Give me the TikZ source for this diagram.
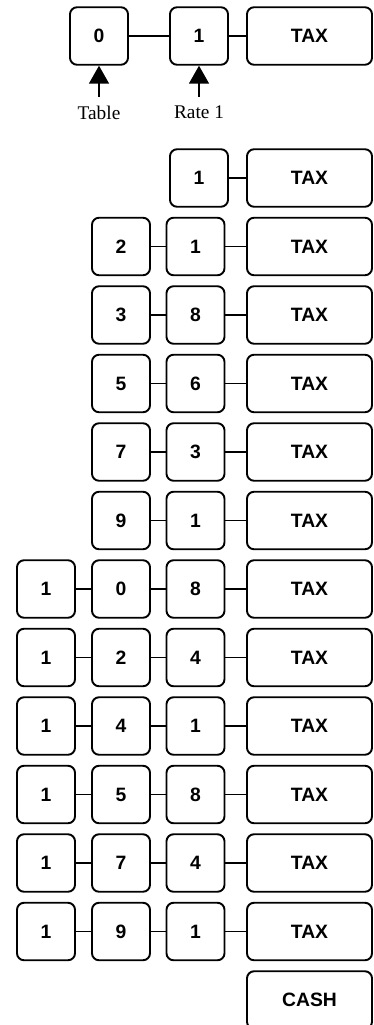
\documentclass[tikz,border=0pt]{standalone}
\usepackage{fontspec}
\setmainfont{Liberation Serif}
\setsansfont{Liberation Sans}
\usetikzlibrary{arrows.meta}

\begin{document}
\begin{tikzpicture}[
    key/.style={draw, line width=1.1pt, rounded corners=4pt, minimum width=1.16cm, minimum height=1.15cm, inner sep=0pt, font=\fontsize{11}{13}\selectfont\sffamily\bfseries},
    widekey/.style={key, minimum width=2.5cm},
    link/.style={line width=0.9pt},
    pointer/.style={line width=0.9pt, -{Triangle[length=0.36cm, width=0.4cm]}},
    lbl/.style={anchor=north, inner sep=5pt, font=\fontsize{11}{13}\selectfont}]
    \useasboundingbox (0,0) rectangle (7.48,-20.5);

    % Table and rate
    \node[key] (t0) at (1.98,-0.72) {0};
    \node[key] (t1) at (3.98,-0.72) {1};
    \node[widekey] (ttax) at (6.19,-0.72) {TAX};
    \draw[link] (t0) -- (t1);
    \draw[link] (t1) -- (ttax);
    \node[lbl] (ltable) at (1.98,-1.94) {Table};
    \node[lbl] (lrate) at (3.98,-1.94) {Rate 1};
    \draw[pointer] (ltable.north) -- (t0.south);
    \draw[pointer] (lrate.north) -- (t1.south);

    % Single digit
    \node[key] (a1) at (3.98,-3.56) {1};
    \node[widekey] (atax) at (6.19,-3.56) {TAX};
    \draw[link] (a1) -- (atax);

    % Two digits
    \node[key] (b1) at (2.42,-4.93) {2};
    \node[key] (b2) at (3.91,-4.93) {1};
    \node[widekey] (btax) at (6.19,-4.93) {TAX};
    \draw[link] (b1) -- (b2);
    \draw[link] (b2) -- (btax);

    \node[key] (c1) at (2.42,-6.30) {3};
    \node[key] (c2) at (3.91,-6.30) {8};
    \node[widekey] (ctax) at (6.19,-6.30) {TAX};
    \draw[link] (c1) -- (c2);
    \draw[link] (c2) -- (ctax);

    \node[key] (d1) at (2.42,-7.67) {5};
    \node[key] (d2) at (3.91,-7.67) {6};
    \node[widekey] (dtax) at (6.19,-7.67) {TAX};
    \draw[link] (d1) -- (d2);
    \draw[link] (d2) -- (dtax);

    \node[key] (e1) at (2.42,-9.04) {7};
    \node[key] (e2) at (3.91,-9.04) {3};
    \node[widekey] (etax) at (6.19,-9.04) {TAX};
    \draw[link] (e1) -- (e2);
    \draw[link] (e2) -- (etax);

    \node[key] (f1) at (2.42,-10.41) {9};
    \node[key] (f2) at (3.91,-10.41) {1};
    \node[widekey] (ftax) at (6.19,-10.41) {TAX};
    \draw[link] (f1) -- (f2);
    \draw[link] (f2) -- (ftax);

    % Three digits
    \node[key] (g1) at (0.92,-11.78) {1};
    \node[key] (g2) at (2.42,-11.78) {0};
    \node[key] (g3) at (3.91,-11.78) {8};
    \node[widekey] (gtax) at (6.19,-11.78) {TAX};
    \draw[link] (g1) -- (g2);
    \draw[link] (g2) -- (g3);
    \draw[link] (g3) -- (gtax);

    \node[key] (h1) at (0.92,-13.15) {1};
    \node[key] (h2) at (2.42,-13.15) {2};
    \node[key] (h3) at (3.91,-13.15) {4};
    \node[widekey] (htax) at (6.19,-13.15) {TAX};
    \draw[link] (h1) -- (h2);
    \draw[link] (h2) -- (h3);
    \draw[link] (h3) -- (htax);

    \node[key] (i1) at (0.92,-14.52) {1};
    \node[key] (i2) at (2.42,-14.52) {4};
    \node[key] (i3) at (3.91,-14.52) {1};
    \node[widekey] (itax) at (6.19,-14.52) {TAX};
    \draw[link] (i1) -- (i2);
    \draw[link] (i2) -- (i3);
    \draw[link] (i3) -- (itax);

    \node[key] (j1) at (0.92,-15.89) {1};
    \node[key] (j2) at (2.42,-15.89) {5};
    \node[key] (j3) at (3.91,-15.89) {8};
    \node[widekey] (jtax) at (6.19,-15.89) {TAX};
    \draw[link] (j1) -- (j2);
    \draw[link] (j2) -- (j3);
    \draw[link] (j3) -- (jtax);

    \node[key] (k1) at (0.92,-17.26) {1};
    \node[key] (k2) at (2.42,-17.26) {7};
    \node[key] (k3) at (3.91,-17.26) {4};
    \node[widekey] (ktax) at (6.19,-17.26) {TAX};
    \draw[link] (k1) -- (k2);
    \draw[link] (k2) -- (k3);
    \draw[link] (k3) -- (ktax);

    \node[key] (l1) at (0.92,-18.63) {1};
    \node[key] (l2) at (2.42,-18.63) {9};
    \node[key] (l3) at (3.91,-18.63) {1};
    \node[widekey] (ltax) at (6.19,-18.63) {TAX};
    \draw[link] (l1) -- (l2);
    \draw[link] (l2) -- (l3);
    \draw[link] (l3) -- (ltax);

    % Tender
    \node[widekey] (cash) at (6.19,-20.00) {CASH};
  \end{tikzpicture}
\end{document}
